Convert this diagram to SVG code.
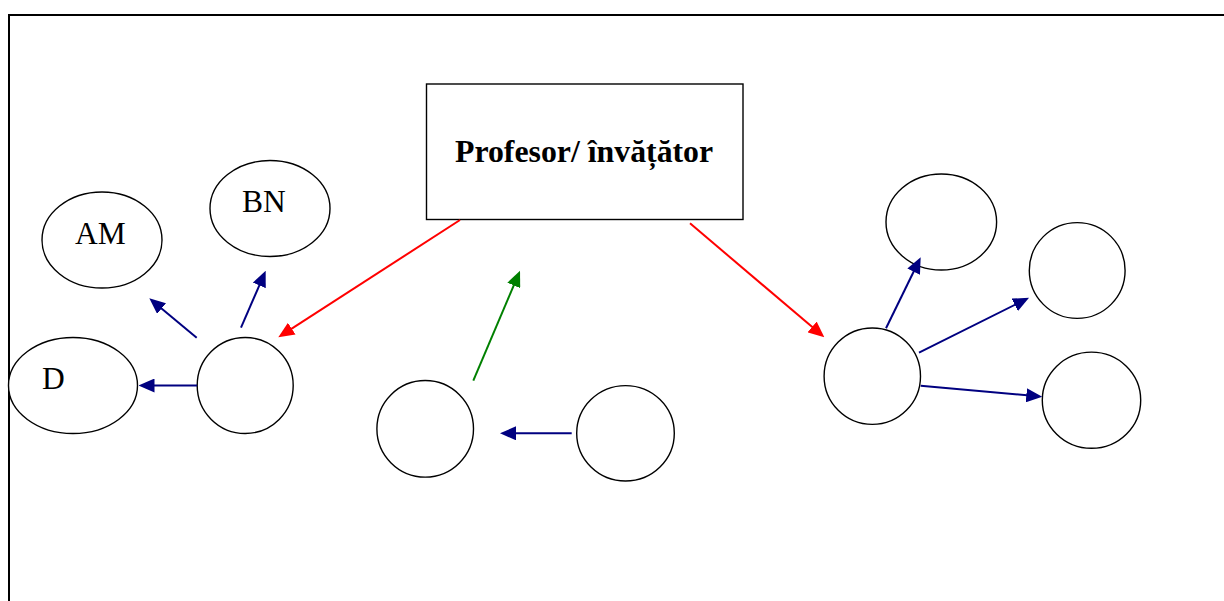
<svg xmlns="http://www.w3.org/2000/svg" width="1224" height="601" viewBox="0 0 1224 601">
  <style>
    .shape { fill: #ffffff; stroke: #000000; stroke-width: 1.4; }
    .lbl { font-family: "Liberation Serif", "Times New Roman", serif; font-size: 31.5px; fill: #000000; }
    .title { font-family: "Liberation Serif", "Times New Roman", serif; font-size: 31.8px; font-weight: bold; fill: #000000; }
    .blue { stroke: #000080; stroke-width: 2; fill: none; marker-end: url(#ahBlue); }
    .red { stroke: #ff0000; stroke-width: 2; fill: none; marker-end: url(#ahRed); }
    .green { stroke: #008000; stroke-width: 2; fill: none; marker-end: url(#ahGreen); }
  </style>
  <defs>
    <marker id="ahBlue" markerUnits="userSpaceOnUse" markerWidth="16" markerHeight="14" refX="6" refY="7" orient="auto" viewBox="0 0 16 14">
      <path d="M0,0 L16,7 L0,14 z" fill="#000080"/>
    </marker>
    <marker id="ahRed" markerUnits="userSpaceOnUse" markerWidth="16" markerHeight="14" refX="6" refY="7" orient="auto" viewBox="0 0 16 14">
      <path d="M0,0 L16,7 L0,14 z" fill="#ff0000"/>
    </marker>
    <marker id="ahGreen" markerUnits="userSpaceOnUse" markerWidth="16" markerHeight="14" refX="6" refY="7" orient="auto" viewBox="0 0 16 14">
      <path d="M0,0 L16,7 L0,14 z" fill="#008000"/>
    </marker>
  </defs>
  <rect width="1224" height="601" fill="#ffffff"/>
  <g id="frame">
    <path d="M9,601 L9,15 L1224,15" fill="none" stroke="#000000" stroke-width="2"/>
  </g>
  <g id="teacher">
    <rect class="shape" x="426.5" y="84" width="316.5" height="135.5"/>
    <text class="title" x="455" y="162">Profesor/ învățător</text>
  </g>
  <g id="node-am">
    <ellipse class="shape" cx="102" cy="240" rx="60" ry="48"/>
    <text class="lbl" x="75" y="244">AM</text>
  </g>
  <g id="node-bn">
    <ellipse class="shape" cx="270" cy="208.5" rx="60" ry="48"/>
    <text class="lbl" x="242" y="212">BN</text>
  </g>
  <g id="node-d">
    <ellipse class="shape" cx="73" cy="385.5" rx="64.5" ry="48"/>
    <text class="lbl" x="42" y="389">D</text>
  </g>
  <g id="node-left">
    <circle class="shape" cx="245.2" cy="385.5" r="48"/>
  </g>
  <g id="node-mid-left">
    <circle class="shape" cx="425.2" cy="428.8" r="48.3"/>
  </g>
  <g id="node-mid-right">
    <ellipse class="shape" cx="625.5" cy="433.3" rx="48.8" ry="47.7"/>
  </g>
  <g id="node-right">
    <circle class="shape" cx="872.3" cy="376.2" r="48.2"/>
  </g>
  <g id="node-right-top">
    <ellipse class="shape" cx="941.3" cy="222" rx="55.3" ry="48"/>
  </g>
  <g id="node-right-mid">
    <circle class="shape" cx="1077.2" cy="270.5" r="47.9"/>
  </g>
  <g id="node-right-bottom">
    <ellipse class="shape" cx="1091.5" cy="400.2" rx="49.2" ry="48.1"/>
  </g>
  <g id="connectors">
    <line class="blue" x1="197" y1="385.5" x2="148.5" y2="385.5"/>
    <line class="blue" x1="196.7" y1="337.7" x2="157" y2="304.7"/>
    <line class="blue" x1="241" y1="327.7" x2="261.7" y2="279.9"/>
    <line class="red" x1="460" y1="220" x2="286.7" y2="331.9"/>
    <line class="green" x1="473.3" y1="380.7" x2="516.1" y2="279.9"/>
    <line class="blue" x1="571.7" y1="433.3" x2="510" y2="433.3"/>
    <line class="red" x1="690" y1="223.3" x2="816.7" y2="330.8"/>
    <line class="blue" x1="886" y1="328.3" x2="916.3" y2="266.3"/>
    <line class="blue" x1="919" y1="352.7" x2="1020.1" y2="302.2"/>
    <line class="blue" x1="920.7" y1="385.7" x2="1032.3" y2="395.8"/>
  </g>
</svg>
